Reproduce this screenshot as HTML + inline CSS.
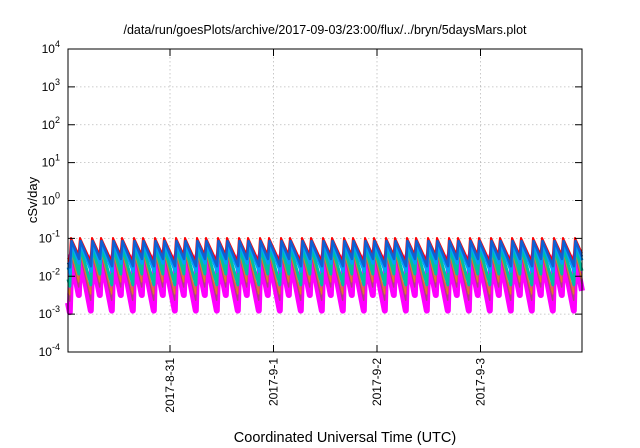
<!DOCTYPE html>
<html><head><style>
html,body{margin:0;padding:0;background:#fff;}
svg{display:block;font-family:"Liberation Sans",sans-serif;}
</style></head><body>
<svg id="s" width="640" height="448" xmlns="http://www.w3.org/2000/svg">
<text x="325" y="34" font-size="12.5" text-anchor="middle">/data/run/goesPlots/archive/2017-09-03/23:00/flux/../bryn/5daysMars.plot</text>
<g id="grid" stroke="#bbb" stroke-width="0.8" stroke-dasharray="1.5,2.5"></g>
<g id="series" fill="none" stroke-linejoin="round"></g>
<rect x="68" y="49" width="514" height="303" fill="none" stroke="#000" stroke-width="1"/>
<g id="ticks" stroke="#000" stroke-width="1"></g>
<g id="labels" font-size="12"></g>
<text transform="translate(37,200) rotate(-90)" font-size="13" text-anchor="middle">cSv/day</text>
<text x="345" y="442" font-size="14.5" text-anchor="middle">Coordinated Universal Time (UTC)</text>
</svg>
<script>
var NS="http://www.w3.org/2000/svg";
function el(p,t,a,txt){var e=document.createElementNS(NS,t);for(var k in a)e.setAttribute(k,a[k]);if(txt!==undefined)e.textContent=txt;p.appendChild(e);return e;}
var g=document.getElementById('grid'),tk=document.getElementById('ticks'),lb=document.getElementById('labels'),sr=document.getElementById('series');
var L=68,R=582,T=49,B=352,dec=(B-T)/8;
for(var i=0;i<=8;i++){var y=T+i*dec,e=4-i;
 if(i>0&&i<8)el(g,'line',{x1:L,x2:R,y1:y,y2:y});
 el(tk,'line',{x1:L,x2:L+7,y1:y,y2:y});el(tk,'line',{x1:R,x2:R-7,y1:y,y2:y});
 var t=el(lb,'text',{x:60,y:y+4,'text-anchor':'end'});
 t.appendChild(document.createTextNode('10'));
 el(t,'tspan',{dy:-6,'font-size':'9'},String(e));
}
var xs=[170,273.5,377,480.5],nm=['2017-8-31','2017-9-1','2017-9-2','2017-9-3'];
xs.forEach(function(x,i){el(g,'line',{x1:x,x2:x,y1:T,y2:B});
 el(tk,'line',{x1:x,x2:x,y1:B,y2:B-7});el(tk,'line',{x1:x,x2:x,y1:T,y2:T+7});
 el(lb,'text',{transform:'translate('+(x+4)+',358) rotate(-90)','text-anchor':'end'},nm[i]);});
var peaks=[],x=71,k=0;var gaps=[9,12];
while(x<R+12){peaks.push(x);x+=gaps[k%2];k++;}
var ser=[
 {c:'#ff00ff',py:256,s:5.2,w:6,o:0.3},
 {c:'#b04080',py:254,s:4.4,w:1.5,o:0.2},
 {c:'#e08020',py:252,s:4.0,w:1.2,o:0.2},
 {c:'#00c0a0',py:247,s:3.6,w:3,o:0.4},
 {c:'#00a0ff',py:243,s:2.7,w:3,o:0.6},
 {c:'#ff0000',py:238,s:2.2,w:2,o:0},
 {c:'#1060d0',py:241,s:2.4,w:2.5,o:0.5}
];
ser.forEach(function(S){
 var d='',prevPeak=peaks[0]-12;
 d+='M'+L+','+Math.min(S.py+S.s*(L-prevPeak),320);
 for(var j=0;j<peaks.length;j++){var p=peaks[j]+S.o;
  if(p>R){d+=' L'+R+','+Math.min(S.py+S.s*(R-prevPeak),320);break;}
  var yb=Math.min(S.py+S.s*(p-1.5-prevPeak),320);
  d+=' L'+(p-1.5)+','+yb+' L'+p+','+S.py;prevPeak=p;}
 el(sr,'path',{d:d,stroke:S.c,'stroke-width':S.w});
});
</script>
</body></html>
